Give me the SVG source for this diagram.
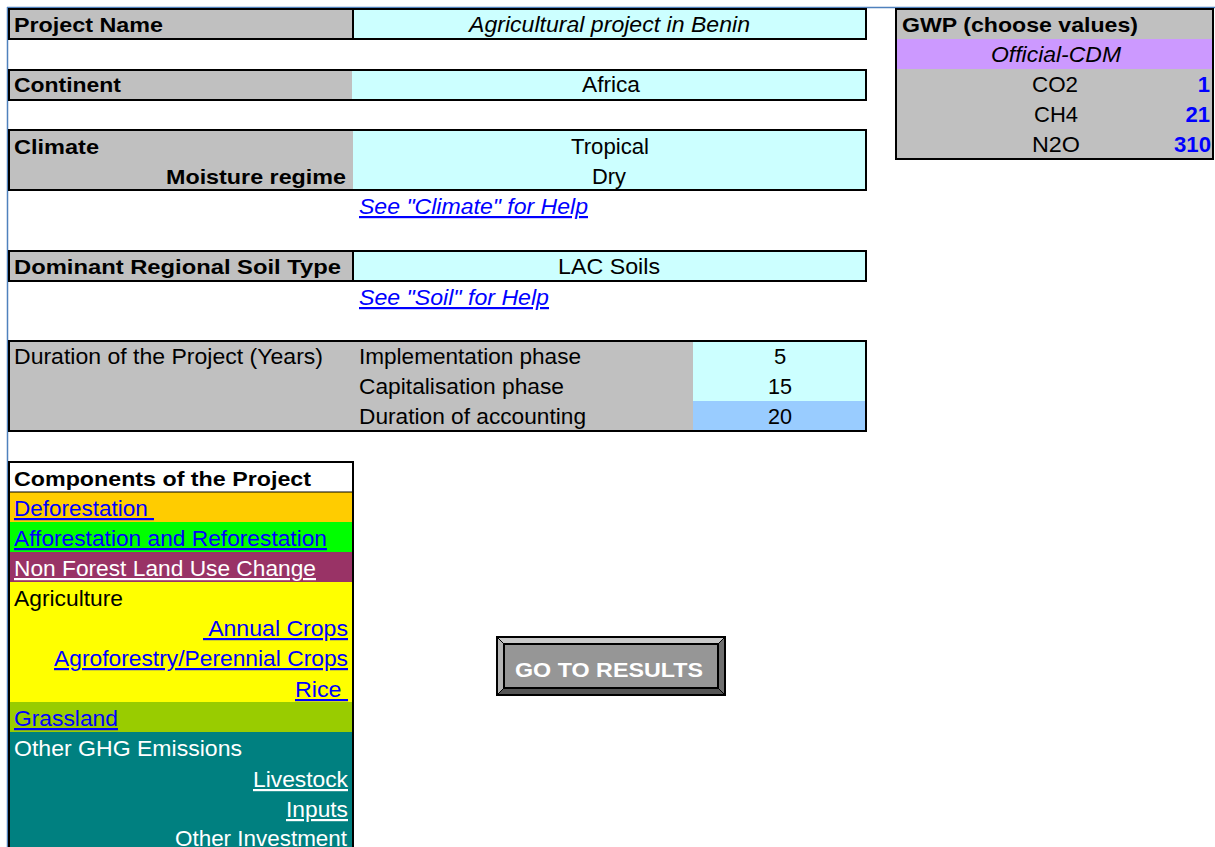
<svg xmlns="http://www.w3.org/2000/svg" width="1215" height="847" viewBox="0 0 1215 847">
<style>
text{font-family:"Liberation Sans",Arial,sans-serif;font-size:22px;fill:#000}
.b{font-weight:bold;font-size:21px}
.i{font-style:italic}
.c{text-anchor:middle}
.r{text-anchor:end}
.lnk{fill:#0000FF;text-decoration:underline}
.wl{fill:#FFFFFF;text-decoration:underline}
.w{fill:#FFFFFF}
.val{fill:#0000FF;font-weight:bold;text-anchor:end}
.bd{fill:none;stroke:#000;stroke-width:2}
.gray{fill:#C0C0C0}
.cyan{fill:#CCFFFF}
</style>
<rect x="0" y="0" width="1215" height="847" fill="#FFFFFF"/>
<g id="frame">
<line x1="7" y1="7.5" x2="1215" y2="7.5" stroke="#4F81BD" stroke-width="1.5"/>
<line x1="7.5" y1="7" x2="7.5" y2="847" stroke="#4F81BD" stroke-width="1.5"/>
</g>
<g id="connectors"></g>
<g id="project-name">
<rect class="gray" x="9" y="9" width="344" height="30"/>
<rect class="cyan" x="353" y="9" width="513" height="30"/>
<rect class="bd" x="9" y="9" width="857" height="30"/>
<line x1="353" y1="9" x2="353" y2="39" stroke="#000" stroke-width="2"/>
<text class="b" x="14" y="32" textLength="149" lengthAdjust="spacingAndGlyphs">Project Name</text>
<text class="i c" x="609.5" y="32" textLength="281" lengthAdjust="spacingAndGlyphs">Agricultural project in Benin</text>
</g>
<g id="continent">
<rect class="gray" x="9" y="70" width="343" height="30"/>
<rect class="cyan" x="352" y="70" width="514" height="30"/>
<rect class="bd" x="9" y="70" width="857" height="30"/>
<text class="b" x="14" y="92" textLength="107" lengthAdjust="spacingAndGlyphs">Continent</text>
<text class="c" x="611" y="92" textLength="58" lengthAdjust="spacingAndGlyphs">Africa</text>
</g>
<g id="climate">
<rect class="gray" x="9" y="130" width="344" height="60"/>
<rect class="cyan" x="353" y="130" width="513" height="60"/>
<rect class="bd" x="9" y="130" width="857" height="60"/>
<text class="b" x="14" y="154" textLength="85" lengthAdjust="spacingAndGlyphs">Climate</text>
<text class="b r" x="346" y="184" textLength="180" lengthAdjust="spacingAndGlyphs">Moisture regime</text>
<text class="c" x="610" y="154" textLength="78" lengthAdjust="spacingAndGlyphs">Tropical</text>
<text class="c" x="609" y="184" textLength="34" lengthAdjust="spacingAndGlyphs">Dry</text>
</g>
<g id="climate-help">
<text class="i lnk" x="359" y="214" textLength="229" lengthAdjust="spacingAndGlyphs">See "Climate" for Help</text>
</g>
<g id="soil">
<rect class="gray" x="9" y="251" width="344" height="30"/>
<rect class="cyan" x="353" y="251" width="513" height="30"/>
<rect class="bd" x="9" y="251" width="857" height="30"/>
<line x1="353" y1="251" x2="353" y2="281" stroke="#000" stroke-width="2"/>
<text class="b" x="14" y="274" textLength="327" lengthAdjust="spacingAndGlyphs">Dominant Regional Soil Type</text>
<text class="c" x="609" y="274" textLength="102" lengthAdjust="spacingAndGlyphs">LAC Soils</text>
</g>
<g id="soil-help">
<text class="i lnk" x="359" y="305" textLength="190" lengthAdjust="spacingAndGlyphs">See "Soil" for Help</text>
</g>
<g id="duration">
<rect class="gray" x="9" y="341" width="684" height="90"/>
<rect class="cyan" x="693" y="341" width="173" height="60"/>
<rect fill="#99CCFF" x="693" y="401" width="173" height="30"/>
<rect class="bd" x="9" y="341" width="857" height="90"/>
<text x="14" y="364" textLength="309" lengthAdjust="spacingAndGlyphs">Duration of the Project (Years)</text>
<text x="359" y="364" textLength="222" lengthAdjust="spacingAndGlyphs">Implementation phase</text>
<text x="359" y="394" textLength="205" lengthAdjust="spacingAndGlyphs">Capitalisation phase</text>
<text x="359" y="424" textLength="227" lengthAdjust="spacingAndGlyphs">Duration of accounting</text>
<text class="c" x="780" y="364">5</text>
<text class="c" x="780" y="394" textLength="24" lengthAdjust="spacingAndGlyphs">15</text>
<text class="c" x="780" y="424" textLength="24" lengthAdjust="spacingAndGlyphs">20</text>
</g>
<g id="gwp">
<rect class="gray" x="896" y="9" width="317" height="150"/>
<rect fill="#CC99FF" x="896" y="39" width="317" height="30"/>
<rect class="bd" x="896" y="9" width="317" height="150"/>
<text class="b" x="902" y="32" textLength="236" lengthAdjust="spacingAndGlyphs">GWP (choose values)</text>
<text class="i c" x="1056" y="62" textLength="130" lengthAdjust="spacingAndGlyphs">Official-CDM</text>
<text class="c" x="1055" y="92" textLength="46" lengthAdjust="spacingAndGlyphs">CO2</text>
<text class="c" x="1056" y="122" textLength="44" lengthAdjust="spacingAndGlyphs">CH4</text>
<text class="c" x="1056" y="152" textLength="48" lengthAdjust="spacingAndGlyphs">N2O</text>
<text class="val" x="1210" y="92">1</text>
<text class="val" x="1210" y="122">21</text>
<text class="val" x="1211" y="152" textLength="37" lengthAdjust="spacingAndGlyphs">310</text>
</g>
<g id="components">
<rect fill="#FFFFFF" x="9" y="462" width="344" height="30"/>
<rect fill="#FFCC00" x="9" y="492" width="344" height="30"/>
<rect fill="#00FF00" x="9" y="522" width="344" height="30"/>
<rect fill="#993366" x="9" y="552" width="344" height="30"/>
<rect fill="#FFFF00" x="9" y="582" width="344" height="120"/>
<rect fill="#99CC00" x="9" y="702" width="344" height="30"/>
<rect fill="#008080" x="9" y="732" width="344" height="120"/>
<rect class="bd" x="9" y="462" width="344" height="400"/>
<line x1="9" y1="492" x2="353" y2="492" stroke="#000" stroke-width="1"/>
<text class="b" x="14" y="486" textLength="297" lengthAdjust="spacingAndGlyphs">Components of the Project</text>
<text class="lnk" x="14" y="516" xml:space="preserve" textLength="140" lengthAdjust="spacingAndGlyphs">Deforestation </text>
<text class="lnk" x="14" y="546" textLength="313" lengthAdjust="spacingAndGlyphs">Afforestation and Reforestation</text>
<text class="wl" x="14" y="576" textLength="302" lengthAdjust="spacingAndGlyphs">Non Forest Land Use Change</text>
<text x="14" y="606" textLength="109" lengthAdjust="spacingAndGlyphs">Agriculture</text>
<text class="lnk" x="203" y="636" xml:space="preserve" textLength="145" lengthAdjust="spacingAndGlyphs"> Annual Crops</text>
<text class="lnk" x="54" y="666" textLength="294" lengthAdjust="spacingAndGlyphs">Agroforestry/Perennial Crops</text>
<text class="lnk" x="295" y="697" xml:space="preserve" textLength="53" lengthAdjust="spacingAndGlyphs">Rice </text>
<text class="lnk" x="14" y="726" textLength="104" lengthAdjust="spacingAndGlyphs">Grassland</text>
<text class="w" x="14" y="756" textLength="228" lengthAdjust="spacingAndGlyphs">Other GHG Emissions</text>
<text class="wl" x="253" y="787" textLength="95" lengthAdjust="spacingAndGlyphs">Livestock</text>
<text class="wl" x="286" y="817" textLength="62" lengthAdjust="spacingAndGlyphs">Inputs</text>
<text class="w" x="175" y="846" textLength="172" lengthAdjust="spacingAndGlyphs">Other Investment</text>
</g>
<g id="go-to-results">
<rect x="497" y="637" width="228" height="58" fill="#C0C0C0" stroke="#000" stroke-width="2"/>
<polygon points="498,638 724,638 718,644 504,644" fill="#C8C8C8"/>
<polygon points="498,638 504,644 504,688 498,694" fill="#B4B4B4"/>
<polygon points="724,638 724,694 718,688 718,644" fill="#6E6E6E"/>
<polygon points="498,694 504,688 718,688 724,694" fill="#555555"/>
<line x1="498" y1="638" x2="504" y2="644" stroke="#000" stroke-width="1"/>
<line x1="724" y1="638" x2="718" y2="644" stroke="#000" stroke-width="1"/>
<line x1="498" y1="694" x2="504" y2="688" stroke="#000" stroke-width="1"/>
<line x1="724" y1="694" x2="718" y2="688" stroke="#000" stroke-width="1"/>
<rect x="504" y="644" width="214" height="44" fill="#969696" stroke="#000" stroke-width="2"/>
<text class="b w" x="515" y="677" textLength="188" lengthAdjust="spacingAndGlyphs">GO TO RESULTS</text>
</g>
</svg>
